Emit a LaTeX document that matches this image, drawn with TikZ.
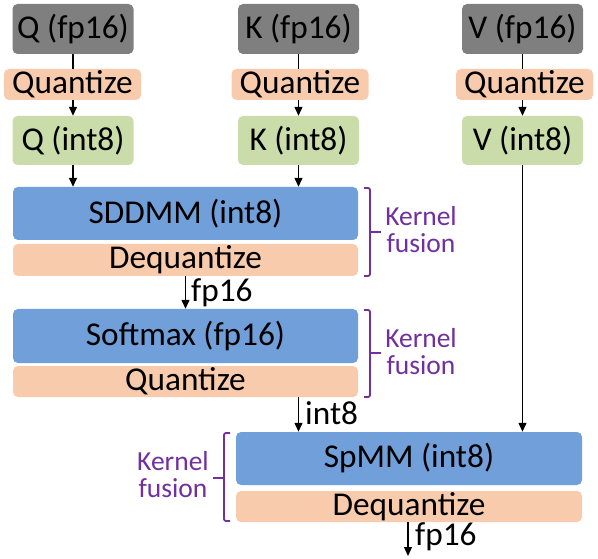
\documentclass[tikz,border=0pt]{standalone}
\usepackage{fontspec}
\setmainfont{Carlito}
\usetikzlibrary{arrows.meta}
\definecolor{cgray}{HTML}{7F7F7F}
\definecolor{corange}{HTML}{F8CBAD}
\definecolor{cgreen}{HTML}{C9DCAA}
\definecolor{cblue}{HTML}{719FD9}
\definecolor{cpurple}{HTML}{7030A0}
\begin{document}
\begin{tikzpicture}[x=1pt,y=-1pt,
  blk/.style={rounded corners=5pt, inner sep=0pt, font=\fontsize{33.3}{36}\selectfont},
  grayb/.style={blk, fill=cgray, minimum width=121pt, minimum height=50pt},
  greenb/.style={blk, fill=cgreen, minimum width=121pt, minimum height=49pt},
  quantb/.style={blk, fill=corange, minimum width=137pt, minimum height=31pt},
  wideb/.style={blk, minimum width=345pt},
  conn/.style={line width=1.3pt},
  arr/.style={conn, -{Triangle[length=9pt,width=8pt]}},
  lbl/.style={inner sep=0pt, anchor=west, font=\fontsize{33.3}{36}\selectfont},
  brk/.style={cpurple, line width=1.8pt, rounded corners=2pt},
  kf/.style={cpurple, inner sep=0pt, align=center, font=\fontsize{27.5}{27}\selectfont}]
\useasboundingbox (0,0) rectangle (598,559);

\node[grayb] (qf) at (73,29) {Q (fp16)};
\node[quantb] (qq) at (72.5,84.5) {Quantize};
\node[greenb] (qi) at (73,140.5) {Q (int8)};
\node[grayb] (kf) at (298.5,29) {K (fp16)};
\node[quantb] (kq) at (300,84.5) {Quantize};
\node[greenb] (ki) at (298.5,140.5) {K (int8)};
\node[grayb] (vf) at (522.5,29) {V (fp16)};
\node[quantb] (vq) at (524.5,84.5) {Quantize};
\node[greenb] (vi) at (522.5,140.5) {V (int8)};

\node[wideb, fill=cblue, minimum height=53pt] (sd) at (185.5,213.5) {SDDMM (int8)};
\node[wideb, fill=corange, minimum height=32pt] (dq1) at (185.5,260) {Dequantize};
\node[wideb, fill=cblue, minimum height=54pt] (sm) at (185.5,336) {Softmax (fp16)};
\node[wideb, fill=corange, minimum height=31pt] (q2) at (185.5,381.5) {Quantize};
\node[wideb, fill=cblue, minimum height=53pt, minimum width=346pt] (sp) at (409,458.5) {SpMM (int8)};
\node[wideb, fill=corange, minimum height=31pt, minimum width=346pt] (dq2) at (409,506.5) {Dequantize};

\draw[conn] (qf.south) -- (qf.south |- qq.north);
\draw[arr] (qf.south |- qq.south) -- (qi.north);
\draw[conn] (kf.south) -- (kf.south |- kq.north);
\draw[arr] (kf.south |- kq.south) -- (ki.north);
\draw[conn] (vf.south) -- (vf.south |- vq.north);
\draw[arr] (vf.south |- vq.south) -- (vi.north);

\draw[arr] (qi.south) -- (qi.south |- sd.north);
\draw[arr] (ki.south) -- (ki.south |- sd.north);
\draw[arr] (dq1.south) -- (sm.north);
\node[lbl] (l1) at (191,293) {fp16};
\draw[arr] (ki.south |- q2.south) -- (ki.south |- sp.north);
\node[lbl] (l2) at (305,413) {int8};
\draw[arr] (vi.south) -- (vi.south |- sp.north);
\coordinate (out) at (408,556);
\draw[arr] (dq2.south -| out) -- (out);
\node[lbl] (l3) at (415,537) {fp16};

\draw[brk] (364,188) -- (370,188) -- (370,276) -- (364,276);
\draw[brk] (370,232) -- (381,232);
\node[kf] (k1) at (421,230) {Kernel\\fusion};
\draw[brk] (364,310) -- (370,310) -- (370,397) -- (364,397);
\draw[brk] (370,353) -- (381,353);
\node[kf] (k2) at (421,352) {Kernel\\fusion};
\draw[brk] (230,433) -- (224,433) -- (224,521) -- (230,521);
\draw[brk] (224,478) -- (213,478);
\node[kf] (k3) at (173,475) {Kernel\\fusion};
\end{tikzpicture}
\end{document}
